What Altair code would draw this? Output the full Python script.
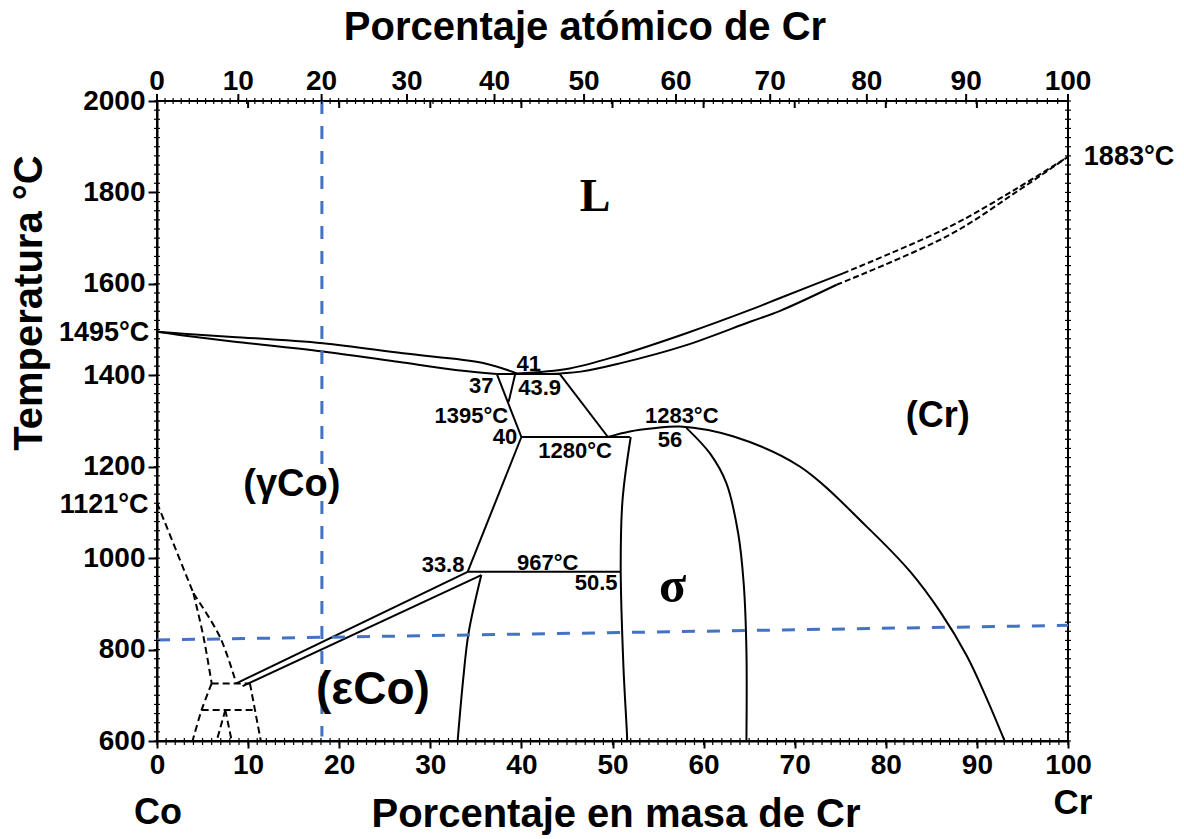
import altair as alt
import pandas as pd

# ---------------- data (mass % Cr, temperature °C) ----------------
liq_co_x = [0, 2.9, 8.3, 18.2, 27.0, 35.8, 39.5]
liq_co_t = [1495, 1491, 1484, 1470, 1448, 1427, 1404]
sol_co_x = [0, 2.9, 8.3, 18.2, 27.0, 33.0, 37.3]
sol_co_t = [1495, 1487, 1474, 1452, 1428, 1411, 1403]

liq_cr_x = [39.5, 45.3, 50.8, 58.1, 65.1, 68.4, 75.3]
liq_cr_t = [1404, 1415, 1444, 1492, 1543, 1569, 1623]
liq_cr_dash_x = [75.3, 87.0, 94.4, 100]
liq_cr_dash_t = [1623, 1725, 1809, 1878]
sol_cr_x = [42.8, 46.5, 50.8, 58.1, 65.1, 68.4, 74.6]
sol_cr_t = [1403, 1408, 1426, 1466, 1517, 1541, 1598]
sol_cr_dash_x = [74.6, 87.0, 94.4, 100]
sol_cr_dash_t = [1598, 1707, 1802, 1878]

eut_x = [37.3, 44.2]
eut_t = [1403, 1403]
gam_solv_x = [37.3, 40.0]
gam_solv_t = [1403, 1265]
small_x = [39.3, 38.6]
small_t = [1401, 1342]
cr_left_x = [44.2, 49.5]
cr_left_t = [1403, 1265]
iso1280_x = [40.0, 51.9]
iso1280_t = [1265, 1265]
dome_x = [49.5, 51.9, 54.5, 57.4, 63.3, 70.6, 77.9, 82.7, 86.0, 88.9, 90.9, 93.05]
dome_t = [1265, 1277, 1284, 1288, 1266, 1200, 1069, 970, 882, 786, 701, 600]
sig_left_x = [52.0, 51.1, 50.9, 51.2, 51.6, 51.6]
sig_left_t = [1265, 1127, 981, 763, 609, 600]
sig_right_x = [58.1, 60.7, 62.5, 63.8, 64.4, 64.7, 64.7]
sig_right_t = [1285, 1229, 1164, 1054, 945, 799, 600]
iso967_x = [34.1, 50.9]
iso967_t = [970, 970]
gam_sig_x = [40.0, 34.1]
gam_sig_t = [1265, 970]
low_x = [35.6, 34.2, 33.6, 33.0]
low_t = [963, 836, 733, 600]
eps_up_x = [34.1, 8.7]
eps_up_t = [970, 726]
eps_lo_x = [35.6, 9.4]
eps_lo_t = [963, 720]

d1_x = [0, 4.0]; d1_t = [1121, 923]
d2_x = [4.0, 5.1, 6.0]; d2_t = [923, 828, 726]
d3_x = [4.0, 6.9, 8.7]; d3_t = [923, 828, 726]
d4_x = [6.0, 10.2]; d4_t = [726, 726]
d5_x = [10.2, 11.4]; d5_t = [726, 600]
d6_x = [6.0, 4.9, 3.9]; d6_t = [726, 668, 600]
d7_x = [4.9, 10.75]; d7_t = [668, 668]
d8_x = [7.5, 6.55]; d8_t = [668, 600]
d9_x = [7.5, 8.2]; d9_t = [668, 600]

blue_v_x = [18.1, 18.1]; blue_v_t = [2000, 610]
blue_h_x = [0, 100]; blue_h_t = [821, 853]

mass_ticks = [0, 10, 20, 30, 40, 50, 60, 70, 80, 90, 100]
temp_ticks = [600, 800, 1000, 1200, 1400, 1600, 1800, 2000]
atomic_labels = ["0", "10", "20", "30", "40", "50", "60", "70", "80", "90", "100"]
atomic_pos = [0, 8.93, 18.07, 27.44, 37.05, 46.88, 56.97, 67.31, 77.92, 88.82, 100]

small_labels = ["41", "37", "43.9", "1395°C", "40", "1280°C", "1283°C", "56",
                "967°C", "33.8", "50.5"]
small_lx = [40.8, 35.6, 42.0, 34.5, 38.2, 45.9, 57.6, 56.3, 42.9, 31.4, 48.2]
small_lt = [1425, 1377, 1372, 1311, 1264, 1235, 1312, 1259, 990, 985, 945]

side_labels = ["1495°C", "1121°C", "1883°C"]
side_lx = [-5.8, -5.8, 106.7]
side_lt = [1493, 1116, 1877]

big_labels = ["(Cr)", "(γCo)", "(εCo)"]
big_lx = [85.7, 14.8, 23.7]
big_lt = [1311, 1160, 712]
big_fs = [36, 38, 46]

serif_labels = ["L", "σ"]
serif_lx = [48.1, 56.6]
serif_lt = [1790, 936]
serif_fs = [46, 50]


def at2mass(a):
    return 100 * a * 52.00 / (a * 52.00 + (100 - a) * 58.93)


# ---------------- tables ----------------
def curves_df(curves):
    rows = []
    for name, (xs_, ts_) in curves.items():
        for i, (x, t) in enumerate(zip(xs_, ts_)):
            rows.append({"curve": name, "i": i, "x": x, "T": t})
    return pd.DataFrame(rows)


solid = curves_df({
    "liq_co": (liq_co_x, liq_co_t), "sol_co": (sol_co_x, sol_co_t),
    "liq_cr": (liq_cr_x, liq_cr_t), "sol_cr": (sol_cr_x, sol_cr_t),
    "eut": (eut_x, eut_t), "gsolv": (gam_solv_x, gam_solv_t),
    "small": (small_x, small_t), "crl": (cr_left_x, cr_left_t),
    "i1280": (iso1280_x, iso1280_t), "dome": (dome_x, dome_t),
    "sl": (sig_left_x, sig_left_t), "sr": (sig_right_x, sig_right_t),
    "i967": (iso967_x, iso967_t), "gs": (gam_sig_x, gam_sig_t),
    "low": (low_x, low_t), "eu": (eps_up_x, eps_up_t), "el": (eps_lo_x, eps_lo_t),
})
dash_liq = curves_df({
    "ld": (liq_cr_dash_x, liq_cr_dash_t), "sd": (sol_cr_dash_x, sol_cr_dash_t),
})
dash_left = curves_df({
    "d1": (d1_x, d1_t), "d2": (d2_x, d2_t), "d3": (d3_x, d3_t),
    "d4": (d4_x, d4_t), "d5": (d5_x, d5_t), "d6": (d6_x, d6_t),
    "d7": (d7_x, d7_t), "d8": (d8_x, d8_t), "d9": (d9_x, d9_t),
})
blue = curves_df({"v": (blue_v_x, blue_v_t), "h": (blue_h_x, blue_h_t)})

FONT = "Liberation Sans"
SERIF = "Liberation Serif"
W, H = 911, 640

xs = alt.Scale(domain=[0, 100], nice=False, zero=False)
ys = alt.Scale(domain=[600, 2000], nice=False, zero=False)

axis_common = dict(
    labelFont=FONT, labelFontWeight="bold", labelFontSize=28, labelColor="black",
    tickColor="black", tickWidth=2, domainColor="black", domainWidth=2,
    grid=False, title=None, labelFlush=False, labelOverlap=False, format="d",
)
X_AXIS = alt.Axis(values=mass_ticks, tickSize=7, labelPadding=3, **axis_common)
Y_AXIS = alt.Axis(values=temp_ticks, tickSize=9, labelPadding=3, **axis_common)


def X(field="x:Q"):
    return alt.X(field, scale=xs, axis=X_AXIS)


def Y(field="T:Q"):
    return alt.Y(field, scale=ys, axis=Y_AXIS)


def line_layer(df, color, width, dash=None):
    kw = dict(color=color, strokeWidth=width, interpolate="catmull-rom")
    if dash:
        kw["strokeDash"] = dash
    return alt.Chart(df).mark_line(**kw).encode(
        x=X(), y=Y(), detail="curve:N", order="i:Q",
    )


l_solid = line_layer(solid, "black", 2)
l_dash_liq = line_layer(dash_liq, "black", 2, [6, 3])
l_dash_left = line_layer(dash_left, "black", 2, [7, 4])
l_blue = line_layer(blue, "#4472C4", 3, [13, 12])

# ---- ticks ----
minor_mass = pd.DataFrame({"x": list(range(0, 101))})
minor_temp = pd.DataFrame({"T": list(range(600, 2001, 20))})
minor_at = pd.DataFrame({"x": [at2mass(a) for a in range(0, 101)]})
major_at = pd.DataFrame({"x": atomic_pos, "lab": atomic_labels})
major_mass_top = pd.DataFrame({"x": mass_ticks[1:-1]})

t_bottom = alt.Chart(minor_mass).mark_rule(color="black", strokeWidth=1.2).encode(
    x=X(), y=alt.value(H - 3), y2=alt.value(H + 4))
t_left = alt.Chart(minor_temp).mark_rule(color="black", strokeWidth=1.2).encode(
    y=Y(), x=alt.value(-3), x2=alt.value(3))
t_right = alt.Chart(minor_temp).mark_rule(color="black", strokeWidth=1.2).encode(
    y=Y(), x=alt.value(W - 3), x2=alt.value(W + 3))
t_top = alt.Chart(minor_at).mark_rule(color="black", strokeWidth=1.2).encode(
    x=X(), y=alt.value(-3), y2=alt.value(3))
t_top_major = alt.Chart(major_at).mark_rule(color="black", strokeWidth=2).encode(
    x=X(), y=alt.value(-7), y2=alt.value(0))
t_top_mass = alt.Chart(major_mass_top).mark_rule(color="black", strokeWidth=2).encode(
    x=X(), y=alt.value(0), y2=alt.value(7))
top_labels = alt.Chart(major_at).mark_text(
    font=FONT, fontWeight="bold", fontSize=28, color="black", baseline="alphabetic"
).encode(x=X(), y=alt.value(-11), text="lab:N")


# ---- annotations ----
def text_layer(labels, lx, lt, font, size):
    df = pd.DataFrame({"lab": labels, "x": lx, "T": lt})
    return alt.Chart(df).mark_text(font=font, fontWeight="bold", fontSize=size, color="black").encode(
        x=X(), y=Y(), text="lab:N")


a_small = text_layer(small_labels, small_lx, small_lt, FONT, 22)
a_side = text_layer(side_labels, side_lx, side_lt, FONT, 27)
a_big = alt.Chart(pd.DataFrame({"lab": big_labels, "x": big_lx, "T": big_lt, "fs": big_fs})).mark_text(
    font=FONT, fontWeight="bold", color="black").encode(
    x=X(), y=Y(), text="lab:N", size=alt.Size("fs:Q", scale=None, legend=None))
a_serif = alt.Chart(pd.DataFrame({"lab": serif_labels, "x": serif_lx, "T": serif_lt, "fs": serif_fs})).mark_text(
    font=SERIF, fontWeight="bold", color="black").encode(
    x=X(), y=Y(), text="lab:N", size=alt.Size("fs:Q", scale=None, legend=None))


def pixel_text(txt, px, py, size, angle=0):
    return alt.Chart(pd.DataFrame({"t": [txt]})).mark_text(
        font=FONT, fontWeight="bold", fontSize=size, color="black", angle=angle
    ).encode(x=alt.value(px), y=alt.value(py), text="t:N")


title_top = pixel_text("Porcentaje atómico de Cr", 428, -73, 40)
title_bottom = pixel_text("Porcentaje en masa de Cr", 459, 714, 40)
title_left = pixel_text("Temperatura °C", -127, 202, 40, angle=270)
lab_co = pixel_text("Co", 1, 712, 36)
lab_cr = pixel_text("Cr", 916, 702, 35)

chart = alt.layer(
    l_solid, l_dash_liq, l_dash_left, l_blue,
    t_bottom, t_left, t_right, t_top, t_top_major, t_top_mass, top_labels,
    a_small, a_side, a_big, a_serif,
    title_top, title_bottom, title_left, lab_co, lab_cr,
).properties(
    width=W, height=H,
    autosize=alt.AutoSizeParams(type="none"),
    padding={"left": 157, "top": 101, "right": 116, "bottom": 98},
    background="white",
).configure_view(stroke="black", strokeWidth=2)

chart.save("out.html", embed_options={"renderer": "svg", "actions": False})
